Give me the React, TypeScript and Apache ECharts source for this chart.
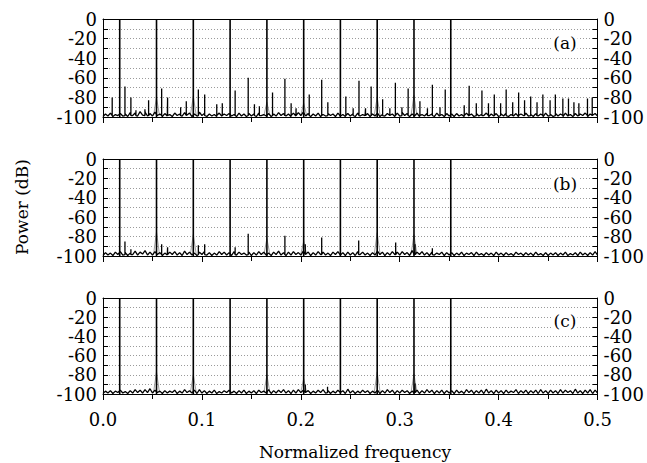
import React, { useEffect, useRef } from 'react';
import * as echarts from 'echarts';

// Carrier tones (reach 0 dB in every panel)
const MAIN_FREQS = [0.0169, 0.0541, 0.0913, 0.1285, 0.1657, 0.2029, 0.24, 0.2772, 0.3144, 0.3516];

// Noise floor, sampled every 0.0025 from 0 to 0.5 (dB), 20 samples per row
const NOISE_STEP = 0.0025;
const NOISE_A = [
  -99.5, -97, -99, -96, -99.5, -97.5, -98.5, -96.5, -99, -97, -99.5, -95.5, -98.5, -96, -99, -94.5, -98, -95, -99, -96.5,
  -99, -95, -98.5, -97, -99.5, -96.5, -99, -97.5, -99.5, -96, -98.5, -97, -99, -95.5, -98, -96, -99.5, -97, -99, -95,
  -98.5, -96.5, -99.5, -97, -99, -97.5, -99.5, -96, -99, -97, -98.5, -96.5, -99, -97.5, -99.5, -96, -99, -97, -99.5, -96.5,
  -99, -97, -99.5, -96, -98.5, -97.5, -99, -96.5, -99.5, -97, -99, -95.5, -98.5, -96.5, -99, -97, -99.5, -96, -99, -95.5,
  -98.5, -95, -99, -96.5, -99.5, -97, -99, -96, -99.5, -97.5, -99, -96.5, -98.5, -97, -99.5, -96, -99, -97.5, -99.5, -96.5,
  -99, -97, -99.5, -96, -99, -97.5, -98.5, -96.5, -99.5, -97, -99, -96, -99.5, -97.5, -99, -96.5, -98.5, -97, -99.5, -96,
  -99, -95.5, -98.5, -96.5, -99.5, -97, -99, -96, -99.5, -97.5, -99, -96.5, -98.5, -97, -99.5, -96, -99, -97.5, -99.5, -96.5,
  -99, -97, -99.5, -96.5, -99, -97.5, -99.5, -96, -99, -97, -99.5, -96.5, -99, -97.5, -98.5, -96, -99.5, -97, -99, -96.5,
  -99.5, -97, -99, -96, -99.5, -97.5, -99, -96.5, -99.5, -97, -98.5, -96, -99, -97.5, -99.5, -96.5, -99, -97, -99.5, -96,
  -99, -97.5, -99.5, -96.5, -99, -97, -99.5, -96, -99, -97.5, -99.5, -96.5, -99, -97, -98.5, -96, -99.5, -97, -99, -96.5,
  -99,
];
const NOISE_B = [
  -99.5, -96.5, -99, -97, -99.5, -96, -98.5, -95.5, -99, -96.5, -99.5, -97, -98.5, -95, -99, -96, -98, -94.5, -99, -96,
  -99, -95.5, -98.5, -96.5, -99.5, -97, -99, -96, -98.5, -95.5, -99, -96.5, -99.5, -95, -98.5, -96, -99, -97, -99.5, -96,
  -98.5, -95.5, -99, -96.5, -99.5, -97, -99, -95.5, -98.5, -96, -99, -96.5, -99.5, -95.5, -99, -96, -98.5, -97, -99, -96,
  -99.5, -96.5, -99, -95.5, -98.5, -96, -99, -97, -99.5, -96, -98.5, -95, -99, -96.5, -99.5, -96, -99, -95.5, -98.5, -96.5,
  -99, -95, -98.5, -96, -99.5, -96.5, -99, -95.5, -98.5, -96, -99, -97, -99.5, -96, -98.5, -95.5, -99, -96.5, -99.5, -96,
  -99, -96.5, -99.5, -95.5, -98.5, -96, -99, -97, -99.5, -96.5, -99, -95, -98.5, -96, -99.5, -96.5, -99, -95.5, -98.5, -96,
  -99, -95.5, -98.5, -96.5, -99.5, -94.5, -99, -96, -98.5, -95.5, -99, -96.5, -99.5, -96, -99, -97, -98.5, -96, -99.5, -96.5,
  -99, -96.5, -99.5, -97, -99, -96, -99.5, -97, -98.5, -96.5, -99.5, -96, -99, -97.5, -99.5, -96.5, -99, -97, -99.5, -96,
  -99, -97, -99.5, -96.5, -99, -97.5, -99.5, -96, -98.5, -97, -99.5, -96.5, -99, -97, -99.5, -96, -99, -97.5, -99.5, -96.5,
  -99.5, -97, -99, -96.5, -99.5, -97, -99, -96, -99.5, -97.5, -99, -96.5, -99.5, -96, -99, -97, -99.5, -96.5, -99, -95.5,
  -99,
];
const NOISE_C = [
  -99.5, -97, -99, -96.5, -99.5, -97, -98.5, -96, -99, -97.5, -99.5, -96.5, -99, -95.5, -98.5, -96, -99, -95.5, -98.5, -94.5,
  -99, -96, -98.5, -97, -99.5, -96.5, -99, -97, -98.5, -96, -99.5, -97, -99, -95.5, -98.5, -96.5, -99, -96, -99.5, -95.5,
  -99, -96.5, -99.5, -97, -99, -96, -99.5, -97.5, -99, -96.5, -98.5, -96, -99, -97, -99.5, -96.5, -99, -96, -99.5, -97,
  -99, -96.5, -99.5, -96, -98.5, -97, -99, -95.5, -99.5, -96.5, -99, -96, -98.5, -95.5, -99, -96.5, -99.5, -96, -99, -95.5,
  -98.5, -96, -99, -96.5, -99.5, -97, -99, -96, -98.5, -95.5, -99, -96.5, -99.5, -97, -99, -96, -98.5, -96.5, -99.5, -95,
  -99, -96.5, -99.5, -97, -99, -96, -98.5, -96.5, -99.5, -97, -99, -96, -99.5, -96.5, -99, -95.5, -98.5, -96, -99.5, -96.5,
  -99, -96, -98.5, -96.5, -99.5, -97, -99, -96, -99.5, -96.5, -99, -95.5, -98.5, -96, -99.5, -96.5, -99, -96, -99.5, -96.5,
  -99, -96.5, -99.5, -96, -99, -97, -99.5, -95.5, -98.5, -96, -99.5, -96.5, -99, -96, -99.5, -95, -99, -96.5, -99.5, -96,
  -99, -96.5, -99.5, -96, -99, -97, -98.5, -95.5, -99.5, -96.5, -99, -96, -99.5, -96.5, -99, -96, -99.5, -95.5, -99, -96.5,
  -99.5, -96, -99, -96.5, -99.5, -95.5, -99, -96, -98.5, -96.5, -99.5, -95, -99, -96.5, -99.5, -96, -99, -95.5, -99.5, -96,
  -99,
];

// Spurious lines [frequency, dB]
const PEAKS_A = [
  [0.0093, -80], [0.0222, -69], [0.0282, -80], [0.0333, -93], [0.0424, -92], [0.0461, -83],
  [0.0593, -71], [0.0653, -80], [0.0785, -90], [0.0842, -84],
  [0.0964, -72], [0.1028, -77], [0.115, -87], [0.1206, -86],
  [0.1336, -73], [0.1468, -60], [0.1531, -87], [0.1581, -89],
  [0.1714, -75], [0.1839, -61], [0.1902, -86], [0.1952, -91],
  [0.2085, -77], [0.2211, -62], [0.2273, -85],
  [0.2455, -79], [0.2529, -91], [0.2588, -63], [0.2654, -91], [0.2711, -69],
  [0.2827, -82], [0.29, -91], [0.2956, -65], [0.3022, -90], [0.3085, -71],
  [0.3204, -84], [0.328, -91], [0.333, -67], [0.3407, -90], [0.346, -72],
  [0.3652, -88], [0.3702, -68], [0.3774, -86], [0.3831, -73], [0.3897, -86], [0.3956, -77],
  [0.402, -86], [0.4076, -72], [0.4142, -85], [0.4202, -75], [0.4262, -83], [0.4324, -79],
  [0.4388, -85], [0.4447, -77], [0.452, -83], [0.4573, -77], [0.4649, -81], [0.4706, -81],
  [0.4761, -85], [0.4811, -86], [0.4898, -81], [0.4946, -80],
];
const PEAKS_B = [
  [0.0222, -85], [0.0282, -93], [0.0593, -88], [0.0653, -91], [0.0964, -89], [0.1028, -88],
  [0.1336, -91], [0.1468, -77], [0.1839, -79], [0.2045, -88], [0.2211, -81], [0.2585, -84],
  [0.2959, -86], [0.3155, -88], [0.333, -92],
];
const PEAKS_C = [
  [0.2045, -90], [0.227, -92.5], [0.3155, -89],
];

// Grey skirts at the foot of some carriers [frequency, dB]
const SKIRTS_A = [[0.0541, -80], [0.0913, -79], [0.1657, -85], [0.2029, -86], [0.2772, -80], [0.3144, -78]];
const SKIRTS_B = [[0.0541, -75], [0.0913, -78], [0.1657, -82], [0.2029, -85], [0.2772, -76], [0.3144, -78]];
const SKIRTS_C = [[0.0541, -77], [0.0913, -80], [0.1657, -80], [0.2029, -84], [0.2772, -77], [0.3144, -79]];

const PANEL_LABELS = ['(a)', '(b)', '(c)'];
const X_LABEL = 'Normalized frequency';
const Y_LABEL = 'Power (dB)';

const NOISE = [NOISE_A, NOISE_B, NOISE_C];
const PEAKS = [PEAKS_A, PEAKS_B, PEAKS_C];
const SKIRTS = [SKIRTS_A, SKIRTS_B, SKIRTS_C];

const BASE = -98.5;
const SKIRT_HALF = 0.003;
const Y_MIN = -100;
const Y_MAX = 0;
const FONT = 'DejaVu Serif';

const GRIDS = [
  { top: 19, height: 98 },
  { top: 159, height: 97 },
  { top: 298, height: 96 },
];
const LABEL_Y = [43, 184, 321];

function buildTrace(noise: number[], peaks: number[][]) {
  const pts: number[][] = noise.map((v, i) => [i * NOISE_STEP, v]);
  peaks.forEach(([f, d]) => {
    pts.push([f, BASE], [f, d], [f, BASE]);
  });
  pts.sort((a, b) => a[0] - b[0]);
  return pts;
}

export default function App() {
  const ref = useRef<HTMLDivElement>(null);
  useEffect(() => {
    if (!ref.current) return;
    const chart = echarts.init(ref.current, null, { renderer: 'svg' });
    const grid: any[] = [];
    const xAxis: any[] = [];
    const yAxis: any[] = [];
    const series: any[] = [];
    const dotted = { show: true, lineStyle: { color: '#9a9a9a', type: [1, 2], width: 1 } };

    GRIDS.forEach((g, i) => {
      grid.push({ left: 103, right: 41, top: g.top, height: g.height });
      xAxis.push({
        gridIndex: i, type: 'value', min: 0, max: 0.5, interval: 0.1, position: 'bottom',
        axisLine: { show: true, onZero: false, lineStyle: { color: '#000', width: 1 } },
        axisTick: { show: true, inside: false, length: 6, lineStyle: { color: '#000', width: 1 } },
        minorTick: { show: true, splitNumber: 2, length: 5, lineStyle: { color: '#000', width: 1 } },
        axisLabel: {
          show: i === 2, color: '#000', fontSize: 18, fontFamily: FONT, margin: 16,
          formatter: (v: number) => v.toFixed(1),
        },
        splitLine: { show: false },
      });
      xAxis.push({
        gridIndex: i, type: 'value', min: 0, max: 0.5, interval: 0.1, position: 'top',
        axisLine: { show: true, onZero: false, lineStyle: { color: '#000', width: 1 } },
        axisTick: { show: false }, axisLabel: { show: false }, splitLine: { show: false },
      });
      const yBase = {
        gridIndex: i, type: 'value', min: Y_MIN, max: Y_MAX, interval: 20,
        axisLine: { show: true, onZero: false, lineStyle: { color: '#000', width: 1 } },
        axisTick: { show: true, inside: true, length: 5, lineStyle: { color: '#000', width: 1 } },
        minorTick: { show: true, splitNumber: 2, length: 5, lineStyle: { color: '#000', width: 1 } },
        axisLabel: { show: true, color: '#000', fontSize: 18, fontFamily: FONT, margin: 6 },
      };
      yAxis.push({ ...yBase, position: 'left', splitLine: dotted, minorSplitLine: dotted });
      yAxis.push({ ...yBase, position: 'right', splitLine: { show: false } });

      SKIRTS[i].forEach(([f, d]) => {
        series.push({
          type: 'line', xAxisIndex: 2 * i, yAxisIndex: 2 * i, z: 1,
          data: [[f - SKIRT_HALF, BASE], [f, d], [f + SKIRT_HALF, BASE]],
          showSymbol: false, symbol: 'none', silent: true,
          lineStyle: { color: '#a0a0a0', width: 1 },
        });
      });

      series.push({
        type: 'line', xAxisIndex: 2 * i, yAxisIndex: 2 * i, z: 3,
        data: buildTrace(NOISE[i], PEAKS[i]),
        showSymbol: false, symbol: 'none', silent: true,
        lineStyle: { color: '#000', width: 1.3 },
      });

      MAIN_FREQS.forEach((f) => {
        series.push({
          type: 'line', xAxisIndex: 2 * i, yAxisIndex: 2 * i, z: 4,
          data: [[f, Y_MIN], [f, Y_MAX]],
          showSymbol: false, symbol: 'none', silent: true,
          lineStyle: { color: '#000', width: 1.6 },
        });
      });
    });

    const graphic: any[] = [
      {
        type: 'text', x: 22, y: 207, rotation: Math.PI / 2,
        style: { text: Y_LABEL, fontSize: 17, fontFamily: FONT, fill: '#000', align: 'center', verticalAlign: 'middle' },
      },
      {
        type: 'text', x: 355, y: 452,
        style: { text: X_LABEL, fontSize: 17, fontFamily: FONT, fill: '#000', align: 'center', verticalAlign: 'middle' },
      },
    ];
    PANEL_LABELS.forEach((t, i) => {
      graphic.push({
        type: 'text', x: 565, y: LABEL_Y[i], z: 10,
        style: {
          text: t, fontSize: 17, fontFamily: FONT, fill: '#000', align: 'center', verticalAlign: 'middle',
          backgroundColor: '#fff', padding: [0, 1],
        },
      });
    });

    chart.setOption({
      animation: false,
      backgroundColor: '#fff',
      grid, xAxis, yAxis, series, graphic,
    });
    return () => chart.dispose();
  }, []);
  return (
    <div
      ref={ref}
      style={{ position: 'fixed', left: 0, top: 0, width: 647, height: 463, background: '#fff' }}
    />
  );
}
